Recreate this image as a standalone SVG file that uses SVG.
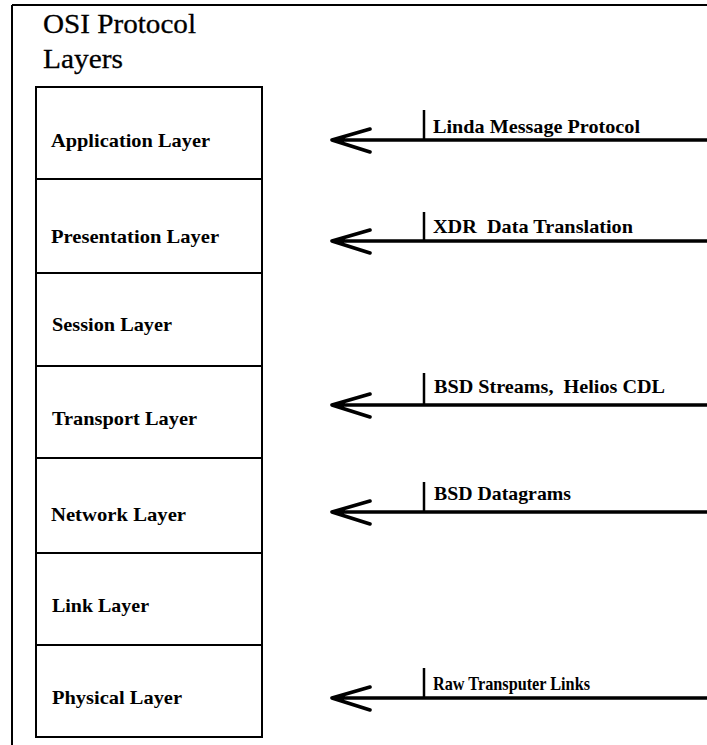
<svg xmlns="http://www.w3.org/2000/svg" width="707" height="745" viewBox="0 0 707 745">
  <style>
    .frame { fill: none; stroke: #000; stroke-width: 2; }
    .box { fill: #fff; stroke: #000; stroke-width: 2; }
    .title { font-family: "Liberation Serif", "Times New Roman", serif; font-size: 28px; fill: #000; stroke: #000; stroke-width: 0.3; }
    .lbl { font-family: "Liberation Serif", "Times New Roman", serif; font-size: 19px; font-weight: bold; fill: #000; }
    .wire { fill: none; stroke: #000; stroke-width: 3.6; stroke-linecap: round; stroke-linejoin: round; }
    .tick { fill: none; stroke: #000; stroke-width: 2.5; }
  </style>
  <rect x="0" y="0" width="707" height="745" fill="#fff"/>

  <!-- outer frame: top rule and left rule -->
  <path class="frame" d="M12 5 H707 M12 5 V745"/>

  <!-- title -->
  <g id="title">
    <text class="title" x="43" y="33" textLength="153" lengthAdjust="spacingAndGlyphs">OSI Protocol</text>
    <text class="title" x="43" y="68" textLength="80" lengthAdjust="spacingAndGlyphs">Layers</text>
  </g>

  <!-- layer stack -->
  <g id="application">
    <rect class="box" x="36" y="87" width="226" height="92"/>
    <text class="lbl" x="51" y="147" textLength="159" lengthAdjust="spacingAndGlyphs">Application Layer</text>
  </g>
  <g id="presentation">
    <rect class="box" x="36" y="179" width="226" height="94"/>
    <text class="lbl" x="51" y="243" textLength="168" lengthAdjust="spacingAndGlyphs">Presentation Layer</text>
  </g>
  <g id="session">
    <rect class="box" x="36" y="273" width="226" height="93"/>
    <text class="lbl" x="52" y="331" textLength="120" lengthAdjust="spacingAndGlyphs">Session Layer</text>
  </g>
  <g id="transport">
    <rect class="box" x="36" y="366" width="226" height="92"/>
    <text class="lbl" x="52" y="425" textLength="145" lengthAdjust="spacingAndGlyphs">Transport Layer</text>
  </g>
  <g id="network">
    <rect class="box" x="36" y="458" width="226" height="95"/>
    <text class="lbl" x="51" y="521" textLength="135" lengthAdjust="spacingAndGlyphs">Network Layer</text>
  </g>
  <g id="link">
    <rect class="box" x="36" y="553" width="226" height="92"/>
    <text class="lbl" x="52" y="612" textLength="97" lengthAdjust="spacingAndGlyphs">Link Layer</text>
  </g>
  <g id="physical">
    <rect class="box" x="36" y="645" width="226" height="92"/>
    <text class="lbl" x="52" y="704" textLength="130" lengthAdjust="spacingAndGlyphs">Physical Layer</text>
  </g>

  <!-- protocol connectors pointing into the stack -->
  <g id="connectors">
    <path class="wire" d="M707 140 H332 M370 129 L332 140 L370 152"/>
    <path class="tick" d="M424 110 V140"/>
    <path class="wire" d="M707 241 H332 M370 230 L332 241 L370 253"/>
    <path class="tick" d="M424 212 V241"/>
    <path class="wire" d="M707 405 H332 M370 394 L332 405 L370 417"/>
    <path class="tick" d="M424 373 V405"/>
    <path class="wire" d="M707 512 H332 M370 501 L332 512 L370 524"/>
    <path class="tick" d="M424 482 V512"/>
    <path class="wire" d="M707 698 H332 M370 687 L332 698 L370 710"/>
    <path class="tick" d="M424 668 V698"/>
  </g>

  <!-- connector labels -->
  <g id="labels">
    <text class="lbl" x="433" y="133" textLength="207" lengthAdjust="spacingAndGlyphs">Linda Message Protocol</text>
    <text class="lbl" x="433" y="233" textLength="200" lengthAdjust="spacingAndGlyphs" xml:space="preserve">XDR  Data Translation</text>
    <text class="lbl" x="434" y="393" textLength="231" lengthAdjust="spacingAndGlyphs" xml:space="preserve">BSD Streams,  Helios CDL</text>
    <text class="lbl" x="434" y="500" textLength="137" lengthAdjust="spacingAndGlyphs">BSD Datagrams</text>
    <text class="lbl" x="433" y="690" textLength="157" lengthAdjust="spacingAndGlyphs">Raw Transputer Links</text>
  </g>
</svg>
